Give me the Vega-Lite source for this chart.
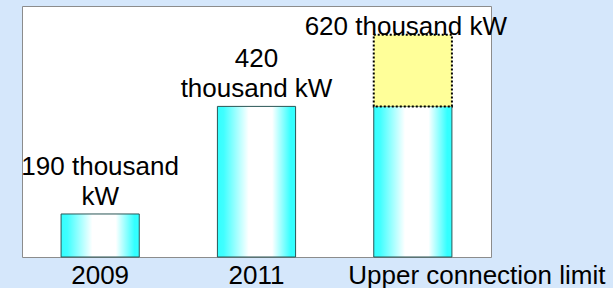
{
  "$schema": "https://vega.github.io/schema/vega-lite/v6.json",
  "width": 469,
  "height": 251,
  "autosize": {"type": "none"},
  "padding": {"left": 22, "top": 6, "right": 122, "bottom": 31},
  "background": "#d5e7fb",
  "config": {
    "view": {"stroke": "#8c8c8c", "strokeWidth": 1, "fill": "white"},
    "font": "Liberation Sans"
  },
  "data": {"values": [
    {"cat": "2009", "lo": 0, "hi": 120, "seg": "base", "line1": "190 thousand", "line2": "kW"},
    {"cat": "2011", "lo": 0, "hi": 420, "seg": "base", "line1": "420", "line2": "thousand kW"},
    {"cat": "Upper connection limit", "lo": 0, "hi": 420, "seg": "base", "line1": null, "line2": null},
    {"cat": "Upper connection limit", "lo": 420, "hi": 620, "seg": "extra", "line1": null, "line2": "620 thousand kW"}
  ]},
  "encoding": {
    "x": {
      "field": "cat", "type": "nominal", "sort": null,
      "scale": {"paddingInner": 0.5, "paddingOuter": 0.25},
      "axis": {
        "title": null, "domain": false, "ticks": false, "labelAngle": 0,
        "labelFontSize": 26, "labelColor": "black", "labelPadding": 5,
        "labelLimit": 500, "labelOverlap": false,
        "labelOffset": {"condition": {"test": "datum.value === 'Upper connection limit'", "value": 64}, "value": 0}
      }
    }
  },
  "layer": [
    {
      "transform": [{"filter": "datum.seg === 'base'"}],
      "mark": {
        "type": "bar",
        "stroke": "#2a5656",
        "strokeWidth": 1,
        "fill": {"gradient": "linear", "x1": 0, "y1": 0, "x2": 1, "y2": 0, "stops": [
          {"offset": 0, "color": "#33ffff"},
          {"offset": 0.08, "color": "#40ffff"},
          {"offset": 0.4, "color": "#ffffff"},
          {"offset": 0.7, "color": "#ffffff"},
          {"offset": 0.94, "color": "#33ffff"},
          {"offset": 1, "color": "#33ffff"}
        ]}
      },
      "encoding": {
        "y": {"field": "lo", "type": "quantitative", "scale": {"domain": [0, 700]}, "axis": null},
        "y2": {"field": "hi"}
      }
    },
    {
      "transform": [{"filter": "datum.seg === 'extra'"}],
      "mark": {"type": "bar", "fill": "#ffff99", "stroke": "black", "strokeWidth": 2, "strokeDash": [2, 2]},
      "encoding": {
        "y": {"field": "lo", "type": "quantitative"},
        "y2": {"field": "hi"}
      }
    },
    {
      "transform": [{"filter": "datum.line2 != null && datum.seg === 'base'"}],
      "mark": {"type": "text", "fontSize": 26, "baseline": "alphabetic", "align": "center", "dy": -9, "color": "black"},
      "encoding": {
        "y": {"field": "hi", "type": "quantitative"},
        "text": {"field": "line2"}
      }
    },
    {
      "transform": [{"filter": "datum.seg === 'extra'"}],
      "mark": {"type": "text", "fontSize": 26, "baseline": "alphabetic", "align": "center", "dy": 0, "dx": -7, "color": "black"},
      "encoding": {
        "y": {"field": "hi", "type": "quantitative"},
        "text": {"field": "line2"}
      }
    },
    {
      "transform": [{"filter": "datum.line1 != null"}],
      "mark": {"type": "text", "fontSize": 26, "baseline": "alphabetic", "align": "center", "dy": -39, "color": "black"},
      "encoding": {
        "y": {"field": "hi", "type": "quantitative"},
        "text": {"field": "line1"}
      }
    }
  ]
}
